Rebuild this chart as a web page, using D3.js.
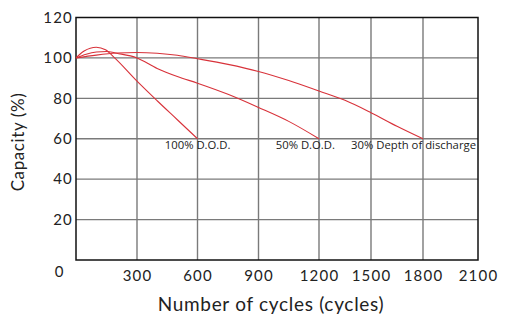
<!DOCTYPE html>
<html>
<head>
<meta charset="utf-8">
<script src="https://cdn.jsdelivr.net/npm/d3@7.9.0/dist/d3.min.js"></script>
<style>
  body { margin: 0; background: #fff; }
  svg text { font-family: "Open Sans", sans-serif; }
</style>
</head>
<body>
<div id="chart"></div>
<script>
// values
const xTicks = [300, 600, 900, 1200, 1500, 1800, 2100];
const yTicks = [20, 40, 60, 80, 100, 120];

const dod100 = [[0, 100], [40, 103.4], [100, 105.3], [145, 104], [190, 100], [300, 88.5], [400, 78.8], [500, 69.4], [600, 60]];
const dod50 = [[0, 100], [50, 101.8], [100, 102.9], [150, 103.2], [200, 102.3], [300, 100], [400, 94.8], [500, 90.8], [600, 87.5], [750, 82], [900, 75.5], [1050, 68.6], [1200, 60]];
const dod30 = [[0, 100], [100, 101.4], [200, 102.4], [300, 102.7], [400, 102.3], [500, 101.3], [600, 99.6], [750, 96.8], [900, 93.3], [1050, 88.8], [1200, 83.6], [1350, 79], [1500, 72.9], [1650, 66.2], [1800, 60]];

const seriesLabels = [
  { text: '100% D.O.D.', x: 600, dx: 33 },
  { text: '50% D.O.D.', x: 1200, dx: 16 },
  { text: '30% Depth of discharge', x: 1800, dx: 53 }
];

const width = 510, height = 328;
const plot = { left: 76, right: 478, top: 17.5, bottom: 260 };

const svg = d3.select('#chart').append('svg')
  .attr('width', width)
  .attr('height', height);

// the x grid in the picture is not evenly spaced, so map each tick to its own spot
const xScale = d3.scaleLinear()
  .domain([0, 300, 600, 900, 1200, 1500, 1800, 2100])
  .range([plot.left, 137, 197.5, 258.5, 319, 371, 423, plot.right]);

const yScale = d3.scaleLinear()
  .domain([0, 120])
  .range([plot.bottom, plot.top]);

// gridlines
const grid = svg.append('g').attr('stroke', '#7a7a7a').attr('stroke-width', 1.4);
grid.selectAll('line.v').data(xTicks.slice(0, -1)).join('line')
  .attr('class', 'v')
  .attr('x1', d => xScale(d)).attr('x2', d => xScale(d))
  .attr('y1', plot.top).attr('y2', plot.bottom);
grid.selectAll('line.h').data(yTicks.slice(0, -1)).join('line')
  .attr('class', 'h')
  .attr('y1', d => yScale(d)).attr('y2', d => yScale(d))
  .attr('x1', plot.left).attr('x2', plot.right);

// frame
svg.append('rect')
  .attr('x', plot.left).attr('y', plot.top)
  .attr('width', plot.right - plot.left).attr('height', plot.bottom - plot.top)
  .attr('fill', 'none').attr('stroke', '#111').attr('stroke-width', 1.5);

// axes (labels only)
const xAxis = svg.append('g')
  .attr('transform', `translate(0, ${plot.bottom})`)
  .call(d3.axisBottom(xScale).tickValues(xTicks).tickFormat(d3.format('d')).tickSize(0).tickPadding(10));
const yAxis = svg.append('g')
  .attr('transform', `translate(${plot.left}, 0)`)
  .call(d3.axisLeft(yScale).tickValues(yTicks).tickFormat(d3.format('d')).tickSize(0).tickPadding(3));
[xAxis, yAxis].forEach(g => {
  g.select('.domain').remove();
  g.selectAll('text')
    .attr('fill', '#222')
    .style('font-family', 'Lato, sans-serif')
    .style('font-size', '15px')
    .style('letter-spacing', '1.2px');
});

// the shared origin label sits below-left of the corner
svg.append('text')
  .attr('x', 59).attr('y', 277)
  .attr('text-anchor', 'middle')
  .attr('fill', '#222')
  .style('font-family', 'Lato, sans-serif')
  .style('font-size', '15px')
  .text('0');

// curves
const line = d3.line()
  .x(d => xScale(d[0]))
  .y(d => yScale(d[1]))
  .curve(d3.curveMonotoneX);

svg.append('g').selectAll('path')
  .data([dod100, dod50, dod30])
  .join('path')
  .attr('d', line)
  .attr('fill', 'none')
  .attr('stroke', '#d8323a')
  .attr('stroke-width', 1.1);

// series labels
svg.append('g').selectAll('text')
  .data(seriesLabels)
  .join('text')
  .attr('x', d => xScale(d.x) + d.dx)
  .attr('y', yScale(60) + 10.5)
  .attr('text-anchor', 'end')
  .attr('fill', '#222')
  .style('font-size', '11.3px')
  .text(d => d.text);

// axis titles
svg.append('text')
  .attr('x', 271).attr('y', 311)
  .attr('text-anchor', 'middle')
  .attr('fill', '#222')
  .style('font-family', 'Lato, sans-serif')
  .style('font-size', '19px')
  .style('letter-spacing', '0.7px')
  .text('Number of cycles (cycles)');

svg.append('text')
  .attr('transform', 'translate(24, 142) rotate(-90)')
  .attr('text-anchor', 'middle')
  .attr('fill', '#222')
  .style('font-family', 'Lato, sans-serif')
  .style('font-size', '17px')
  .style('letter-spacing', '0.6px')
  .text('Capacity (%)');
</script>
</body>
</html>
